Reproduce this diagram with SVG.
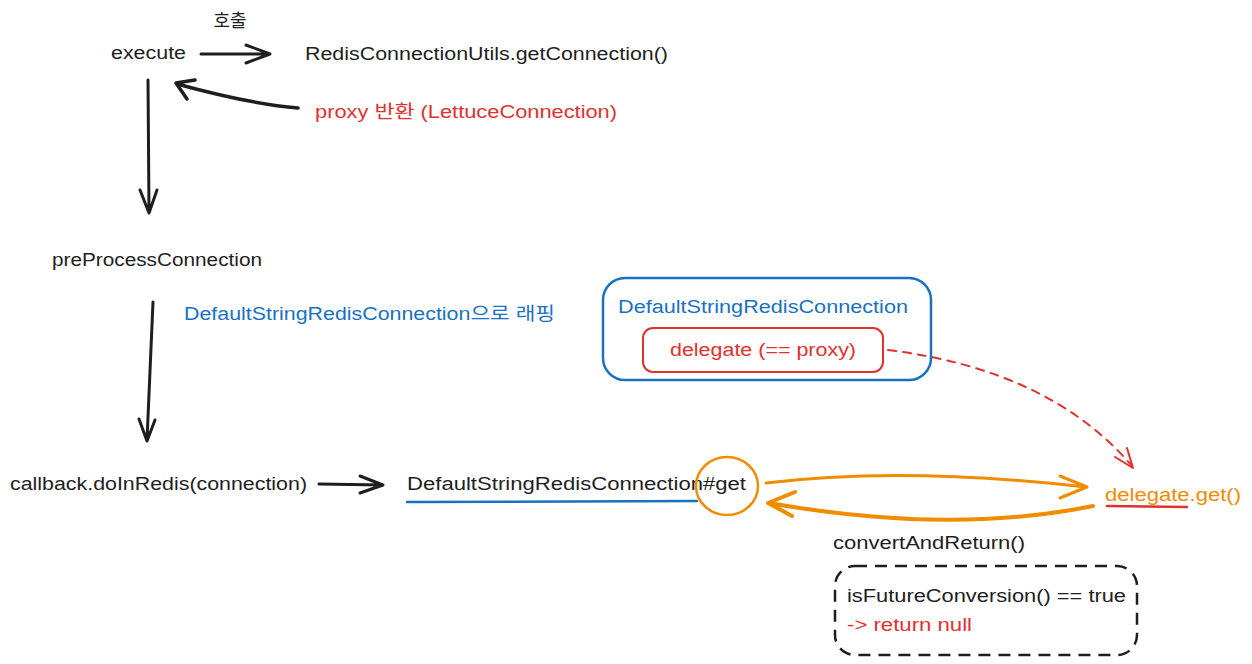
<svg xmlns="http://www.w3.org/2000/svg" width="1252" height="664" viewBox="0 0 1252 664">
<style>
text{font-family:"Liberation Sans","Noto Sans CJK KR",sans-serif;font-size:18px;dominant-baseline:central}
.k{fill:#1e1e1e}.r{fill:#e03131}.b{fill:#1971c2}.o{fill:#f08c00}
.ln{fill:none;stroke-linecap:round;stroke-linejoin:round}
</style>
<rect width="1252" height="664" fill="#ffffff"/>
<g id="connectors" class="ln">
<g stroke="#1e1e1e" stroke-width="3">
<path d="M201 54 L269 54 M246 45 L270 54 L246 63"/>
<path d="M298 108 Q250 104 177 84 M187 99 L176 83 L195 80" stroke-width="3.5"/>
<path d="M148 80 L149 212 M140 190 L149 213 L157 190"/>
<path d="M153 302 L147 440 M139 419 L147 441 L155 420"/>
<path d="M319 484 L382 485 M360 476 L383 485 L360 493"/>
</g>
<path d="M888 350 Q1050 370 1132 466" stroke="#e03131" stroke-width="2" stroke-dasharray="8 7"/>
<path d="M1133 468 L1115 457 M1133 468 L1127 448" stroke="#e03131" stroke-width="2"/>
<path d="M766 483 Q900 466 1086 487 M1060 476 L1087 487 L1060 498" stroke="#f08c00" stroke-width="3"/>
<path d="M1093 506 Q950 535 769 503 M795 492 L768 503 L792 516" stroke="#f08c00" stroke-width="4"/>
</g>
<g id="n-hochul"><text class="k" x="230" y="21" text-anchor="middle" font-size="17">호출</text></g>
<g id="n-execute"><text class="k" x="111" y="53" textLength="75" lengthAdjust="spacingAndGlyphs">execute</text></g>
<g id="n-getconn"><text class="k" x="305" y="54" textLength="363" lengthAdjust="spacingAndGlyphs">RedisConnectionUtils.getConnection()</text></g>
<g id="n-proxy"><text class="r" x="315" y="112" textLength="302" lengthAdjust="spacingAndGlyphs">proxy 반환 (LettuceConnection)</text></g>
<g id="n-preprocess"><text class="k" x="52" y="260" textLength="210" lengthAdjust="spacingAndGlyphs">preProcessConnection</text></g>
<g id="n-wrap"><text class="b" x="184" y="314" textLength="371" lengthAdjust="spacingAndGlyphs">DefaultStringRedisConnection으로 래핑</text></g>
<g id="n-callback"><text class="k" x="10" y="484" textLength="297" lengthAdjust="spacingAndGlyphs">callback.doInRedis(connection)</text></g>
<g id="n-dsrcget">
<text class="k" x="407" y="484" textLength="339" lengthAdjust="spacingAndGlyphs">DefaultStringRedisConnection#get</text>
<path class="ln" d="M407 502 Q550 501 697 501" stroke="#1971c2" stroke-width="2.5"/>
<ellipse class="ln" cx="727" cy="486" rx="31" ry="29" stroke="#f08c00" stroke-width="2.5"/>
</g>
<g id="n-dsrc">
<rect x="603" y="278" width="328" height="102" rx="22" fill="none" stroke="#1971c2" stroke-width="2.5"/>
<text class="b" x="618" y="307" textLength="290" lengthAdjust="spacingAndGlyphs">DefaultStringRedisConnection</text>
<rect x="643" y="328" width="240" height="44" rx="10" fill="none" stroke="#e03131" stroke-width="2"/>
<text class="r" x="763" y="350" text-anchor="middle" textLength="186" lengthAdjust="spacingAndGlyphs">delegate (== proxy)</text>
</g>
<g id="n-delegateget">
<text class="o" x="1105" y="495" textLength="136" lengthAdjust="spacingAndGlyphs">delegate.get()</text>
<path class="ln" d="M1107 506 L1187 507" stroke="#e03131" stroke-width="2.5"/>
</g>
<g id="n-convert"><text class="k" x="833" y="543" textLength="192" lengthAdjust="spacingAndGlyphs">convertAndReturn()</text></g>
<g id="n-future">
<rect x="835" y="566" width="302" height="89" rx="20" fill="none" stroke="#1e1e1e" stroke-width="2.5" stroke-dasharray="12 8"/>
<text class="k" x="847" y="596" textLength="279" lengthAdjust="spacingAndGlyphs">isFutureConversion() == true</text>
<text class="r" x="847" y="625" textLength="125" lengthAdjust="spacingAndGlyphs">-&gt; return null</text>
</g>
</svg>
